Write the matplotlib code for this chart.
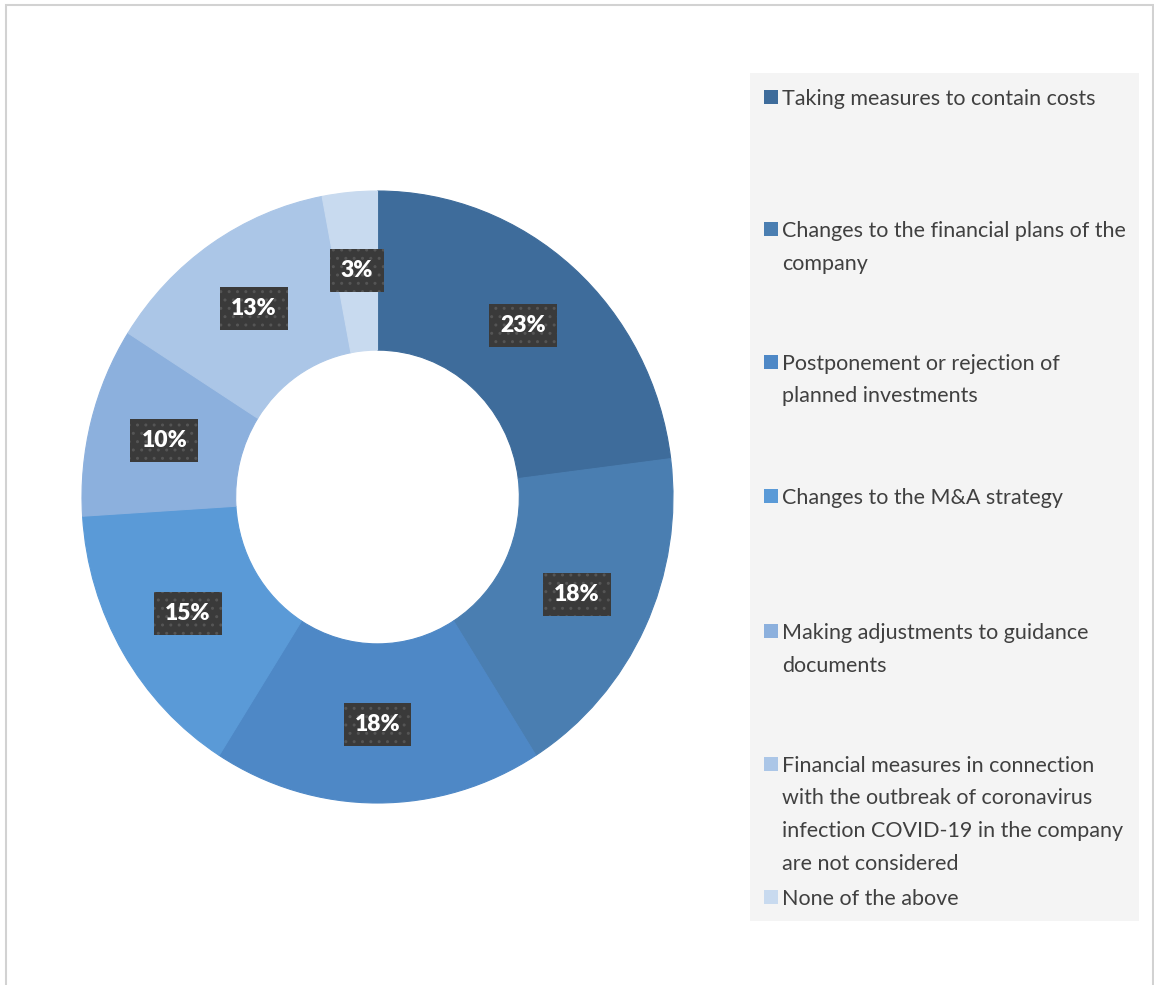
import matplotlib
matplotlib.use("Agg")
import matplotlib.pyplot as plt
from matplotlib.patches import Rectangle

categories = [
    "Taking measures to contain costs",
    "Changes to the financial plans of the\ncompany",
    "Postponement or rejection of\nplanned investments",
    "Changes to the M&A strategy",
    "Making adjustments to guidance\ndocuments",
    "Financial measures in connection\nwith the outbreak of coronavirus\ninfection COVID-19 in the company\nare not considered",
    "None of the above",
]
shares = [23, 18, 18, 15, 10, 13, 3]
colors = ["#3e6c9b", "#4a7eb1", "#4e88c6", "#5a9ad7", "#8cb0dd", "#abc6e7", "#c8daef"]

W, H = 1154, 985
plt.rcParams["hatch.color"] = "#555555"
plt.rcParams["hatch.linewidth"] = 1.0
fig = plt.figure(figsize=(W / 100, H / 100), dpi=100)


def fx(px):
    return px / W


def fy(py):
    return 1 - py / H


# outer frame
fig.patches.append(Rectangle((fx(6), fy(990)), fx(1153) - fx(6), fy(5) - fy(990),
                             transform=fig.transFigure, facecolor="none",
                             edgecolor="#d2d2d2", linewidth=1.5))

# donut
left, right, top, bottom = 82, 673, 191, 803
ax = fig.add_axes([fx(left), fy(bottom), (right - left) / W, (bottom - top) / H])
wedges, texts, autotexts = ax.pie(
    shares, colors=colors, startangle=90, counterclock=False, radius=1,
    wedgeprops=dict(width=0.52, linewidth=0.8),
    autopct=lambda p: f"{p:.0f}%", pctdistance=0.745,
    textprops=dict(color="white", fontsize=16.5, fontweight="heavy", family="Lato"))
for w, c in zip(wedges, colors):
    w.set_edgecolor(c)
ax.set_aspect("auto")
ax.set_xlim(-1, 1)
ax.set_ylim(-1, 1)
for t in autotexts:
    t.set_bbox(dict(boxstyle="square,pad=0.48", facecolor="#3a3a3a",
                    edgecolor="#555555", hatch="..", linewidth=0))

# legend panel
fig.patches.append(Rectangle((fx(750), fy(921)), fx(1139) - fx(750), fy(73) - fy(921),
                             transform=fig.transFigure, facecolor="#f4f4f4",
                             edgecolor="none", zorder=0))
line_step = 32.5
baselines = [105, 237, 370, 504, 639, 772, 905]
for label, color, base in zip(categories, colors, baselines):
    fig.patches.append(Rectangle((fx(764), fy(base - 1)), 14 / W, 14 / H,
                                 transform=fig.transFigure, facecolor=color,
                                 edgecolor="none"))
    for i, line in enumerate(label.split("\n")):
        fig.text(fx(782), fy(base + i * line_step), line, ha="left", va="baseline",
                 fontsize=15.5, family="Lato", color="#404040")

fig.savefig("out.png", dpi=100)
